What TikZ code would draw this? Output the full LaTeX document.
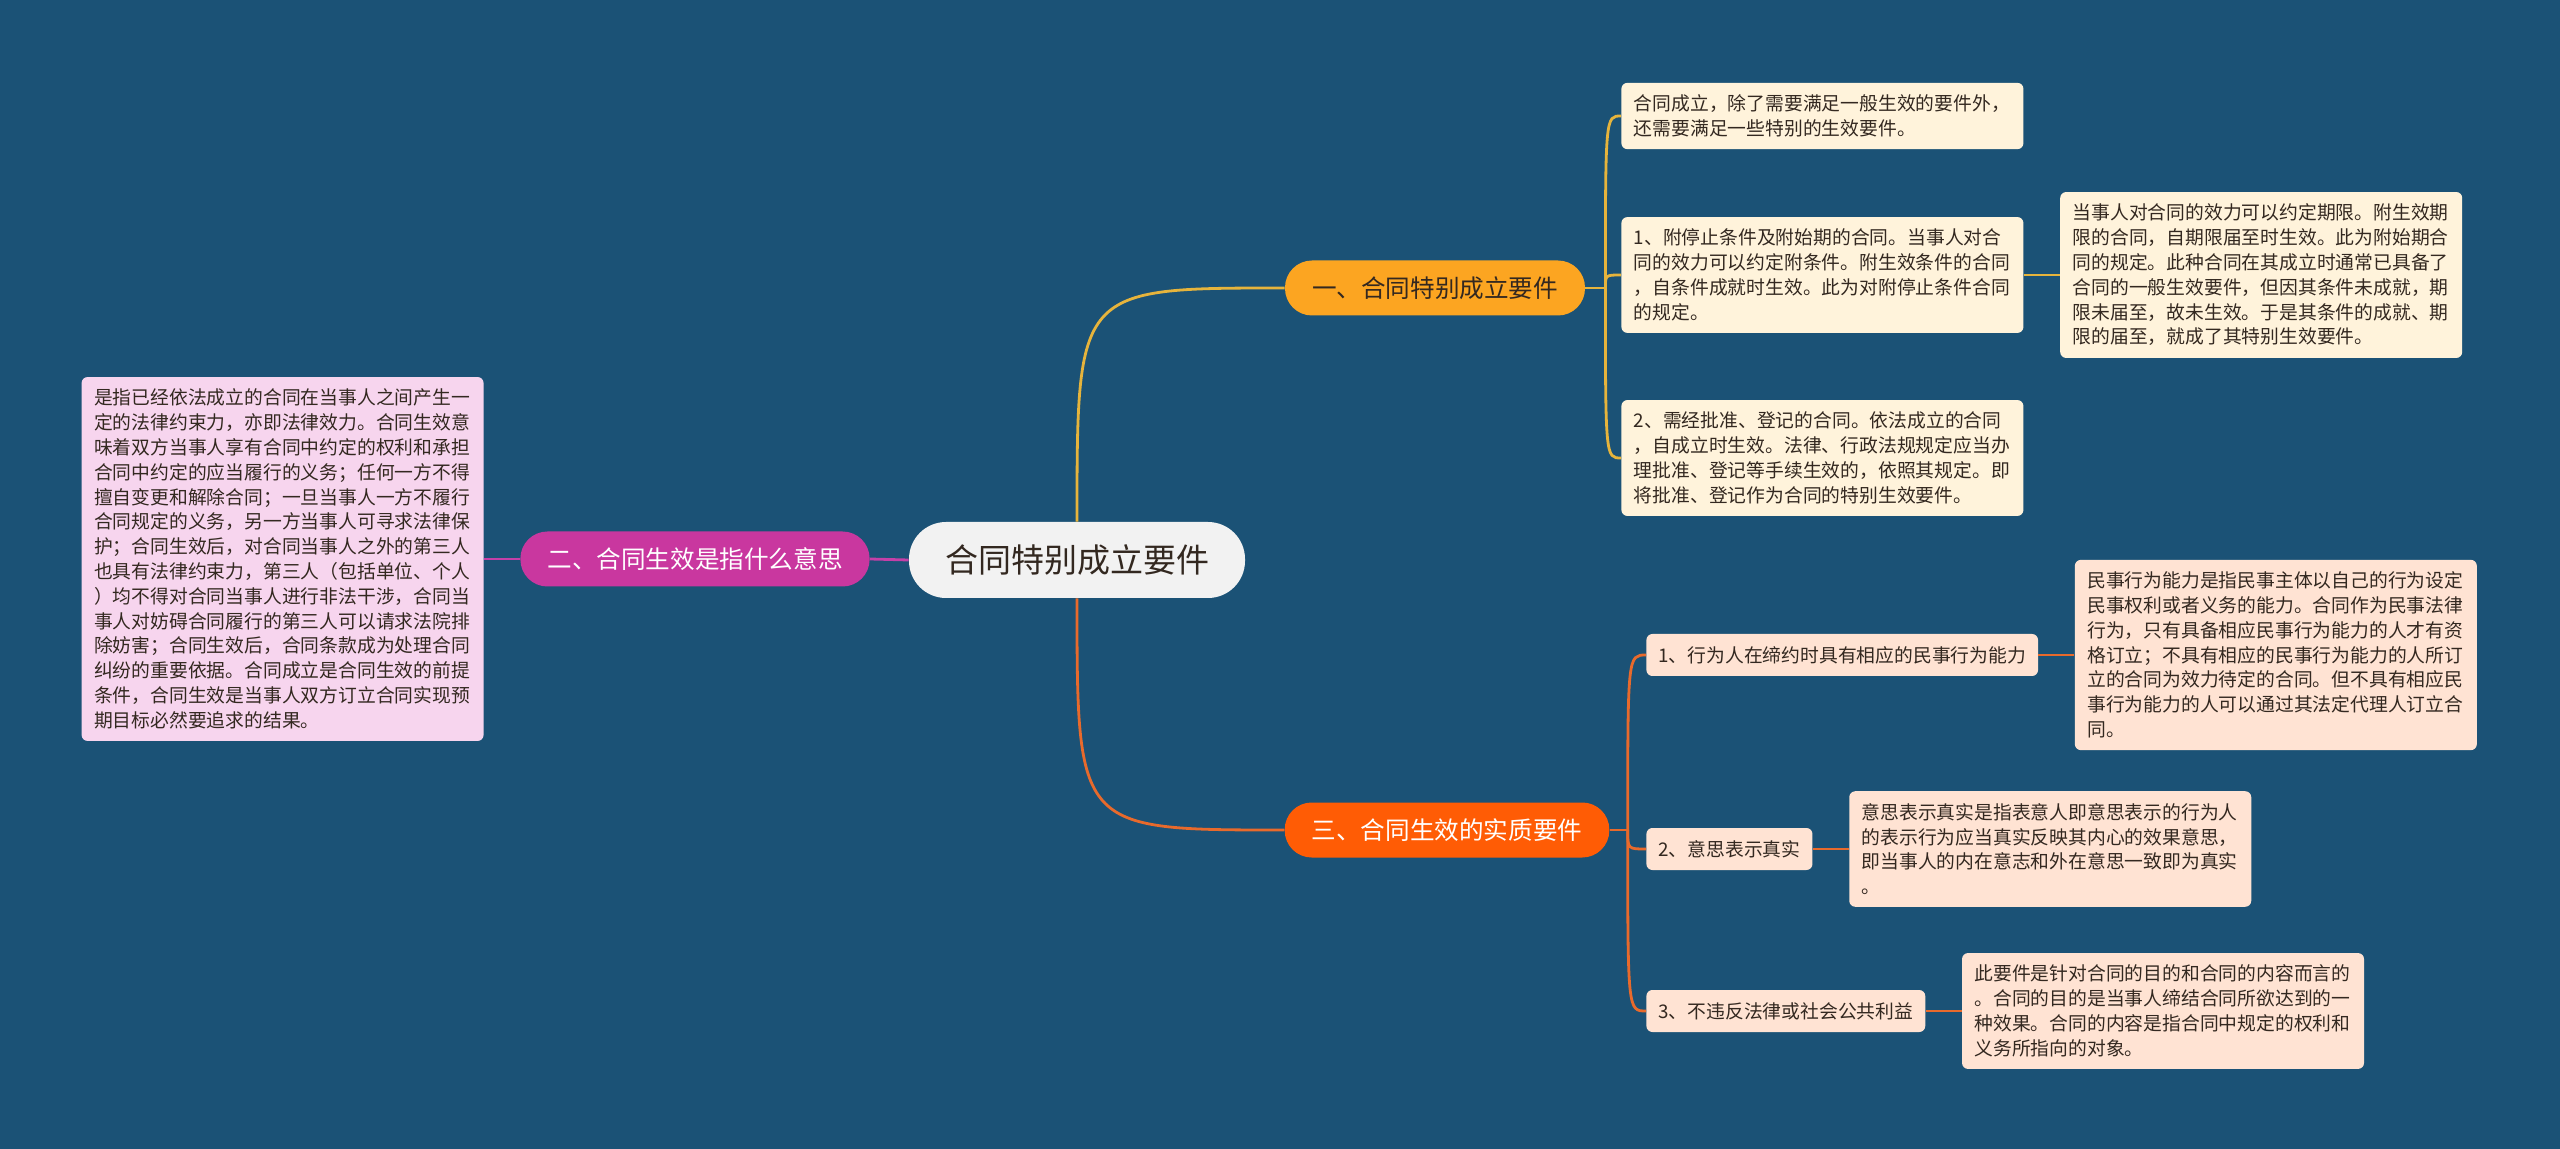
\documentclass[tikz,border=0pt]{standalone}
\usepackage{fontspec}
\newfontfamily\cjk{Noto Sans CJK SC}
\usetikzlibrary{positioning}
\definecolor{MapBlue}{RGB}{27,82,118}
\definecolor{RootGray}{RGB}{242,242,242}
\definecolor{GoldFill}{RGB}{252,165,33}
\definecolor{GoldLine}{RGB}{230,180,60}
\definecolor{FireFill}{RGB}{255,92,5}
\definecolor{FireLine}{RGB}{232,106,44}
\definecolor{PlumFill}{RGB}{201,55,159}
\definecolor{PlumLine}{RGB}{196,64,168}
\definecolor{CreamLeaf}{RGB}{255,243,219}
\definecolor{PeachLeaf}{RGB}{255,227,211}
\definecolor{PinkLeaf}{RGB}{247,213,238}
\definecolor{InkDark}{RGB}{51,40,32}

\begin{document}
\begin{tikzpicture}[x=0.5pt,y=-0.5pt,
    rootnode/.style={fill=RootGray,text=InkDark,rounded corners=18.5pt,minimum height=38pt,
      inner xsep=18pt,font=\cjk\fontsize{16.5}{20}\selectfont},
    topic/.style={rounded corners=13.5pt,minimum height=27.5pt,inner xsep=13.5pt,
      font=\cjk\fontsize{12.3}{15}\selectfont},
    leaf/.style={text=InkDark,rounded corners=3pt,align=left,text width=188.5pt,
      inner xsep=6.25pt,inner ysep=6pt,font=\cjk\fontsize{9.4}{12.4}\selectfont},
    tag/.style={text=InkDark,rounded corners=3pt,minimum height=21pt,inner xsep=6pt,
      font=\cjk\fontsize{9.4}{12.4}\selectfont},
    link/.style={line width=1.4pt}]
  \fill[MapBlue] (0,0) rectangle (2560,1149);
  \useasboundingbox (0,0) rectangle (2560,1149);

  \node[rootnode] (root) at (1077,560) {合同特别成立要件};
  \node[topic,fill=GoldFill,text=InkDark] (t1) at (1435,288) {一、合同特别成立要件};
  \node[topic,fill=PlumFill,text=white] (t2) at (695,559) {二、合同生效是指什么意思};
  \node[topic,fill=FireFill,text=white] (t3) at (1447,830) {三、合同生效的实质要件};

  \node[leaf,fill=PinkLeaf,left=18pt of t2] (t2a) {是指已经依法成立的合同在当事人之间产生一\\
    定的法律约束力，亦即法律效力。合同生效意\\味着双方当事人享有合同中约定的权利和承担\\
    合同中约定的应当履行的义务；任何一方不得\\擅自变更和解除合同；一旦当事人一方不履行\\
    合同规定的义务，另一方当事人可寻求法律保\\护；合同生效后，对合同当事人之外的第三人\\
    也具有法律约束力，第三人（包括单位、个人\\）均不得对合同当事人进行非法干涉，合同当\\
    事人对妨碍合同履行的第三人可以请求法院排\\除妨害；合同生效后，合同条款成为处理合同\\
    纠纷的重要依据。合同成立是合同生效的前提\\条件，合同生效是当事人双方订立合同实现预\\
    期目标必然要追求的结果。};

  \node[leaf,fill=CreamLeaf,anchor=west] (r1) at (1621,116) {合同成立，除了需要满足一般生效的要件外，\\
    还需要满足一些特别的生效要件。};
  \node[leaf,fill=CreamLeaf,anchor=west] (r2) at (1621,275) {1、附停止条件及附始期的合同。当事人对合\\
    同的效力可以约定附条件。附生效条件的合同\\，自条件成就时生效。此为对附停止条件合同\\的规定。};
  \node[leaf,fill=CreamLeaf,anchor=west] (r3) at (1621,458) {2、需经批准、登记的合同。依法成立的合同\\
    ，自成立时生效。法律、行政法规规定应当办\\理批准、登记等手续生效的，依照其规定。即\\
    将批准、登记作为合同的特别生效要件。};
  \node[leaf,fill=CreamLeaf,right=18pt of r2] (r2a) {当事人对合同的效力可以约定期限。附生效期\\
    限的合同，自期限届至时生效。此为附始期合\\同的规定。此种合同在其成立时通常已具备了\\
    合同的一般生效要件，但因其条件未成就，期\\限未届至，故未生效。于是其条件的成就、期\\
    限的届至，就成了其特别生效要件。};

  \node[tag,fill=PeachLeaf,anchor=west] (s1) at (1646,655) {1、行为人在缔约时具有相应的民事行为能力};
  \node[leaf,fill=PeachLeaf,right=18pt of s1] (s1a) {民事行为能力是指民事主体以自己的行为设定\\
    民事权利或者义务的能力。合同作为民事法律\\行为，只有具备相应民事行为能力的人才有资\\
    格订立；不具有相应的民事行为能力的人所订\\立的合同为效力待定的合同。但不具有相应民\\
    事行为能力的人可以通过其法定代理人订立合\\同。};
  \node[tag,fill=PeachLeaf,anchor=west] (s2) at (1646,849) {2、意思表示真实};
  \node[leaf,fill=PeachLeaf,right=18pt of s2] (s2a) {意思表示真实是指表意人即意思表示的行为人\\
    的表示行为应当真实反映其内心的效果意思，\\即当事人的内在意志和外在意思一致即为真实\\。};
  \node[tag,fill=PeachLeaf,anchor=west] (s3) at (1646,1011) {3、不违反法律或社会公共利益};
  \node[leaf,fill=PeachLeaf,right=18pt of s3] (s3a) {此要件是针对合同的目的和合同的内容而言的\\
    。合同的目的是当事人缔结合同所欲达到的一\\种效果。合同的内容是指合同中规定的权利和\\
    义务所指向的对象。};

  \draw[link,GoldLine] (root.north) .. controls (root.north |- t1.west) .. (t1.west);
  \draw[link,FireLine] (root.south) .. controls (root.south |- t3.west) .. (t3.west);
  \draw[link,PlumLine] (root.west) -- (t2.east);
  \draw[link,PlumLine] (t2.west) -- (t2a.east);

  \coordinate (j1) at ([xshift=10pt]t1.east);
  \draw[link,GoldLine] (t1.east) -- (j1);
  \foreach \n in {r1,r2,r3}
    \draw[link,GoldLine] (j1) .. controls (j1 |- \n.west) .. (\n.west);
  \draw[link,GoldLine] (r2.east) -- (r2a.west);

  \coordinate (j3) at ([xshift=9pt]t3.east);
  \draw[link,FireLine] (t3.east) -- (j3);
  \foreach \n in {s1,s2,s3}
    \draw[link,FireLine] (j3) .. controls (j3 |- \n.west) .. (\n.west);
  \foreach \n in {s1,s2,s3}
    \draw[link,FireLine] (\n.east) -- (\n a.west);
\end{tikzpicture}
\end{document}
